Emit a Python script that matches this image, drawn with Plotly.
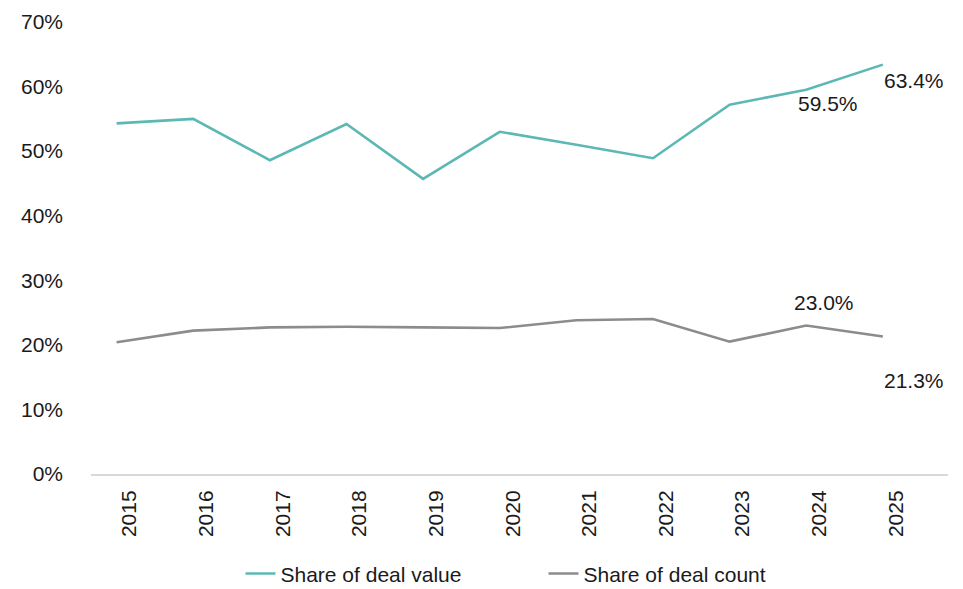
import plotly.graph_objects as go

# Annual series (share of total, %)
years = [2015, 2016, 2017, 2018, 2019, 2020, 2021, 2022, 2023, 2024, 2025]
deal_value_share = [54.3, 55.0, 48.6, 54.2, 45.7, 53.0, 51.0, 48.9, 57.2, 59.5, 63.4]
deal_count_share = [20.4, 22.2, 22.7, 22.8, 22.7, 22.6, 23.8, 24.0, 20.5, 23.0, 21.3]

series_names = ["Share of deal value", "Share of deal count"]
series_colors = ["#5BB8B4", "#8C8C8C"]

y_ticks = [0, 10, 20, 30, 40, 50, 60, 70]
y_tick_text = [f"{v}%" for v in y_ticks]

# Points that carry a value label: (series index, year index, x px shift, y px shift)
labelled_points = [(0, 9, 22, -14), (0, 10, 31, -16), (1, 9, 18, 23), (1, 10, 31, -44)]

font_main = "Liberation Sans, Arial, sans-serif"
text_color = "#1a1a1a"

fig = go.Figure()
for name, color, vals in zip(series_names, series_colors, [deal_value_share, deal_count_share]):
    fig.add_trace(go.Scatter(
        x=years, y=vals, name=name, mode="lines",
        line=dict(color=color, width=2.6),
        hoverinfo="skip",
    ))

all_series = [deal_value_share, deal_count_share]
for si, yi, dx, dy in labelled_points:
    v = all_series[si][yi]
    fig.add_annotation(
        x=years[yi], y=v, xref="x", yref="y",
        text=f"{v:.1f}%", showarrow=False,
        xshift=dx, yshift=dy,
        font=dict(family=font_main, size=21, color=text_color),
    )

fig.update_layout(
    width=963, height=589,
    margin=dict(l=91, r=15, t=22, b=115, autoexpand=False),
    plot_bgcolor="white", paper_bgcolor="white",
    font=dict(family=font_main, size=21, color=text_color),
    showlegend=True,
    legend=dict(
        orientation="h", yref="paper",
        x=0.528, xanchor="center", y=-0.221, yanchor="middle",
        font=dict(family=font_main, size=21, color=text_color),
        entrywidth=258, entrywidthmode="pixels",
    ),
    xaxis=dict(
        range=[2014.666, 2025.85], automargin=False,
        tickmode="array", tickvals=years, ticktext=[str(y) for y in years],
        tickangle=-90, ticklabelshift=13, ticklabelstandoff=6,
        showgrid=False, zeroline=False,
        showline=True, linecolor="#D9D9D9", linewidth=2,
        ticks="", tickfont=dict(size=21),
    ),
    yaxis=dict(
        range=[0, 70], automargin=False,
        tickmode="array", tickvals=y_ticks, ticktext=y_tick_text,
        showgrid=False, zeroline=False, showline=False,
        ticks="", ticklabelstandoff=27, tickfont=dict(size=21),
    ),
)

fig.write_html("out.html")
